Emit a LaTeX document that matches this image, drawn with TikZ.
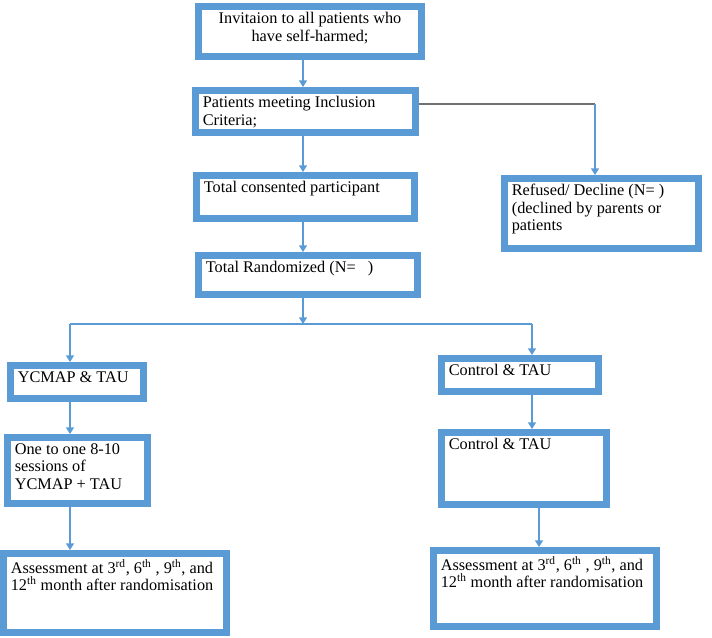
\documentclass[tikz,border=0pt]{standalone}
\usepackage{fontspec}
\setmainfont{Liberation Serif}
\usetikzlibrary{arrows.meta}
\definecolor{boxblue}{HTML}{5B9BD5}
\definecolor{linegray}{HTML}{707070}
\newlength{\px}
\setlength{\px}{0.75pt}
\tikzset{
  flowbox/.style={draw=boxblue, line width=5.25pt, fill=white, anchor=north west,
    inner xsep=5.5pt, inner ysep=4.5pt, outer sep=2.625pt,
    font=\fontsize{12.2}{13}\selectfont},
  conn/.style={draw=boxblue, line width=1pt, -{Triangle[width=6pt,length=5pt]}},
  plain/.style={draw=boxblue, line width=1pt}
}
% #1 name, #2 x, #3 y, #4 width, #5 height (outer, in px), #6 alignment, #7 text
\newcommand{\flowbox}[7]
{
\node[flowbox] (#1) at (#2,#3)
  {\parbox[t][\dimexpr#5\px-14.25pt\relax][t]{\dimexpr#4\px-16.25pt\relax}{#6#7}};
}

\begin{document}
\begin{tikzpicture}[x=0.75pt, y=-0.75pt]
  \useasboundingbox (0,0) rectangle (712,637);

  \flowbox{invite}{195}{3}{230}{57}{\centering}{Invitaion to all patients who\\ have self-harmed;}
  \flowbox{incl}{192}{87}{227}{49}{\raggedright}{Patients meeting Inclusion\\ Criteria;}
  \flowbox{consent}{193}{172}{225}{50}{\raggedright}{Total consented participant}
  \flowbox{random}{195}{252}{226}{46}{\raggedright}{Total Randomized (N=\ \ \ )}
  \flowbox{refused}{501}{175}{201}{77}{\raggedright}{Refused/ Decline (N= )\\ (declined by parents or\\ patients}

  \flowbox{ycmap}{7}{362}{140}{40}{\raggedright}{YCMAP \& TAU}
  \flowbox{sessions}{4}{434}{147}{73}{\raggedright}{One to one 8-10\\ sessions of\\ YCMAP + TAU}
  \flowbox{assessL}{0}{550}{230}{86}{\raggedright}{Assessment at 3\textsuperscript{rd}, 6\textsuperscript{th} , 9\textsuperscript{th}, and\\ 12\textsuperscript{th} month after randomisation}

  \flowbox{control}{438}{355}{164}{40}{\raggedright}{Control \& TAU}
  \flowbox{controltwo}{438}{429}{172}{79}{\raggedright}{Control \& TAU}
  \flowbox{assessR}{430}{547}{230}{83}{\raggedright}{Assessment at 3\textsuperscript{rd}, 6\textsuperscript{th} , 9\textsuperscript{th}, and\\ 12\textsuperscript{th} month after randomisation}

  % main column
  \coordinate (spine) at (303,0);
  \draw[conn] (invite.south -| spine) -- (incl.north -| spine);
  \draw[conn] (incl.south -| spine) -- (consent.north -| spine);
  \draw[conn] (consent.south -| spine) -- (random.north -| spine);

  % refused branch
  \coordinate (bend) at (595,104);
  \draw[linegray, line width=1pt] (incl.east |- bend) -- (bend);
  \draw[conn] (bend) -- (refused.north -| bend);

  % split into the two arms
  \coordinate (splitL) at (70,324);
  \coordinate (splitR) at (532,324);
  \draw[conn] (random.south -| spine) -- (spine |- splitL);
  \draw[plain] (splitL) -- (splitR);
  \draw[conn] (splitL) -- (ycmap.north -| splitL);
  \draw[conn] (splitR) -- (control.north -| splitR);

  % left arm
  \draw[conn] (ycmap.south -| splitL) -- (sessions.north -| splitL);
  \draw[conn] (sessions.south -| splitL) -- (assessL.north -| splitL);

  % right arm
  \coordinate (rcol) at (539,0);
  \draw[conn] (control.south -| splitR) -- (controltwo.north -| splitR);
  \draw[conn] (controltwo.south -| rcol) -- (assessR.north -| rcol);
\end{tikzpicture}
\end{document}
